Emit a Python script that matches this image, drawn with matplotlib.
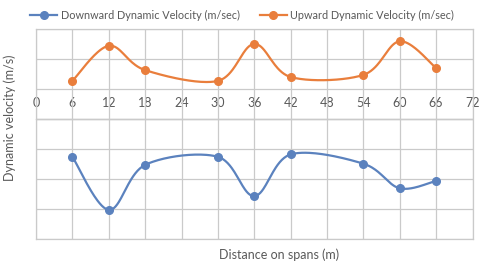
import numpy as np
import matplotlib
matplotlib.use("Agg")
import matplotlib.pyplot as plt
from matplotlib.lines import Line2D

plt.rcParams['font.family'] = ['Lato', 'DejaVu Sans']

distance = [6, 12, 18, 30, 36, 42, 54, 60, 66]
downward = [-1.26, -3.03, -1.53, -1.26, -2.57, -1.18, -1.49, -2.31, -2.06]
upward = [1.27, 2.44, 1.63, 1.27, 2.50, 1.40, 1.47, 2.59, 1.70]
x_ticks = list(range(0, 73, 6))

BLUE = '#5B82BE'
ORANGE = '#E97E3C'
GRID = '#CACACA'
TXT = '#595959'


def smooth(xs, ys, n=40):
    """Excel-style smoothed line (Catmull-Rom Bezier)."""
    P = np.column_stack([xs, ys]).astype(float)
    m = len(P)
    out = []
    for i in range(m - 1):
        p0 = P[i - 1] if i > 0 else P[i]
        p1 = P[i]
        p2 = P[i + 1]
        p3 = P[i + 2] if i + 2 < m else P[i + 1]
        c1 = p1 + (p2 - p0) / 6.0
        c2 = p2 - (p3 - p1) / 6.0
        t = np.linspace(0, 1, n)[:, None]
        seg = ((1 - t) ** 3) * p1 + 3 * ((1 - t) ** 2) * t * c1 + 3 * (1 - t) * t ** 2 * c2 + t ** 3 * p2
        out.append(seg if i == 0 else seg[1:])
    s = np.vstack(out)
    return s[:, 0], s[:, 1]


fig = plt.figure(figsize=(4.8, 2.66), dpi=100)
ax = fig.add_axes([36 / 480, 1 - 239 / 266, (472.5 - 36) / 480, (239 - 29) / 266])

for ys, c in [(downward, BLUE), (upward, ORANGE)]:
    sx, sy = smooth(distance, ys)
    ax.plot(sx, sy, color=c, lw=1.6, zorder=3, solid_capstyle='round')
    ax.plot(distance, ys, 'o', color=c, ms=5.5, zorder=4)

ax.set_xlim(0, 72)
ax.set_ylim(-4, 3)
ax.set_xticks(x_ticks)
ax.set_yticks(range(-4, 4))
ax.grid(True, color=GRID, lw=0.9)
ax.set_axisbelow(True)
ax.tick_params(length=0, labelbottom=False, labelleft=False)
for sp in ax.spines.values():
    sp.set_color(GRID)
    sp.set_linewidth(0.9)

sec = ax.secondary_xaxis(4 / 7)
sec.set_xticks(x_ticks)
sec.set_xticklabels([str(v) for v in x_ticks])
sec.tick_params(length=0, pad=7, labelsize=9, labelcolor=TXT)
sec.spines['bottom'].set_visible(False)

fig.text(10 / 480, 1 - 118 / 266, 'Dynamic velocity (m/s)', rotation=90, ha='center', va='center',
         fontsize=9, color=TXT)
fig.text(279 / 480, 1 - 255 / 266, 'Distance on spans (m)', ha='center', va='center',
         fontsize=9, color=TXT)

handles = [Line2D([], [], color=BLUE, lw=1.6, marker='o', ms=5.5),
           Line2D([], [], color=ORANGE, lw=1.6, marker='o', ms=5.5)]
fig.legend(handles, ['Downward Dynamic Velocity (m/sec)', 'Upward Dynamic Velocity (m/sec)'],
           loc='center', bbox_to_anchor=(242 / 480, 1 - 15 / 266), ncol=2, frameon=False,
           fontsize=7.8, labelcolor=TXT, handlelength=2.5, columnspacing=1.85, handletextpad=0.3)

fig.savefig('out.png', dpi=100)
